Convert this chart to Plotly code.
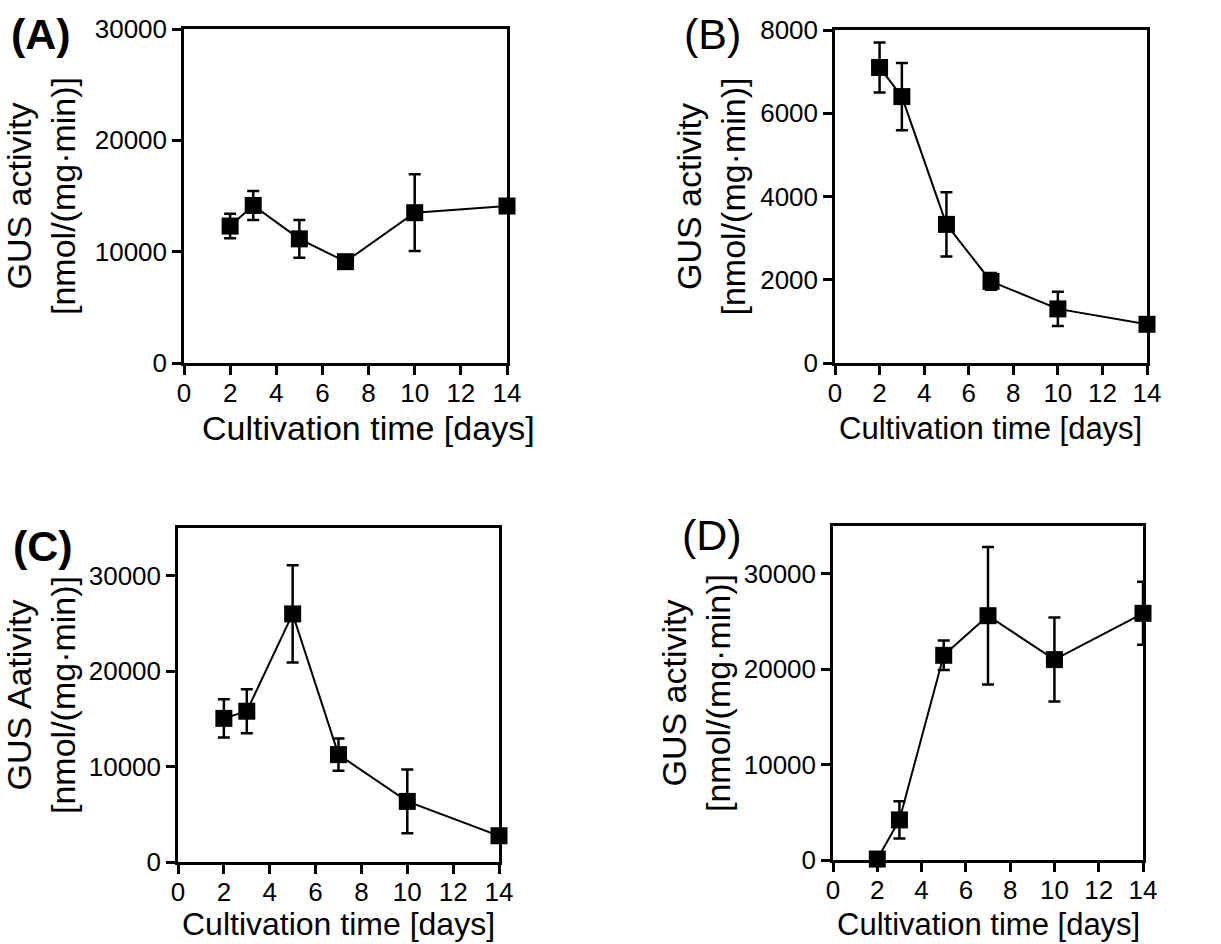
import plotly.graph_objects as go

W, H = 1221, 944
FONT = "Liberation Sans, Arial, sans-serif"

days = [2, 3, 5, 7, 10, 14]
x_ticks = [0, 2, 4, 6, 8, 10, 12, 14]

A_mean = [12300, 14150, 11150, 9100, 13500, 14100]
A_err = [1100, 1300, 1700, 0, 3450, 0]
B_mean = [7100, 6400, 3330, 1960, 1300, 930]
B_err = [600, 810, 770, 200, 410, 0]
C_mean = [15050, 15800, 26000, 11250, 6350, 2750]
C_err = [2000, 2300, 5100, 1700, 3350, 0]
D_mean = [100, 4200, 21450, 25600, 21000, 25850]
D_err = [0, 1950, 1550, 7200, 4400, 3300]

A_yticks = [0, 10000, 20000, 30000]
B_yticks = [0, 2000, 4000, 6000, 8000]
C_yticks = [0, 10000, 20000, 30000]
D_yticks = [0, 10000, 20000, 30000]

panels = [
    ("A", A_mean, A_err, A_yticks, 30000, (184, 507, 29, 363),
     "GUS activity<br>[nmol/(mg·min)]", "(A)", (41, 34), True, 34, (368, 428), 12),
    ("B", B_mean, B_err, B_yticks, 8000, (835, 1147, 30, 363),
     "GUS activity<br>[nmol/(mg·min)]", "(B)", (712, 34), False, 31, (990, 428), 5),
    ("C", C_mean, C_err, C_yticks, 35000, (178, 499, 528, 862),
     "GUS Aativity<br>[nmol/(mg·min)]", "(C)", (43, 546), True, 32, (338, 924), 15),
    ("D", D_mean, D_err, D_yticks, 35000, (833, 1143, 526, 860),
     "GUS activity<br>[nmol/(mg·min)]", "(D)", (712, 535), False, 31, (988, 924), 3),
]

fig = go.Figure()
annotations = []
layout = {}
for i, (key, mean, err, yt, ymax, box, ytitle, lab, lpos, bold, xts, xtpos, so) in enumerate(panels):
    n = "" if i == 0 else str(i + 1)
    l, r, t, b = box
    fig.add_trace(go.Scatter(
        x=days, y=mean, mode="lines+markers",
        xaxis="x" + n, yaxis="y" + n,
        line=dict(color="black", width=2),
        marker=dict(symbol="square", size=17, color="black"),
        error_y=dict(type="data", array=err, visible=True,
                     color="black", thickness=2.5, width=6),
        cliponaxis=False, showlegend=False,
    ))
    common = dict(showline=True, linecolor="black", linewidth=2.5, mirror=True,
                  ticks="outside", ticklen=9, tickwidth=2.5, tickcolor="black",
                  showgrid=False, zeroline=False, automargin=False,
                  tickformat="d",
                  tickfont=dict(family=FONT, size=26, color="black"))
    layout["xaxis" + n] = dict(
        common, domain=[l / W, r / W], range=[0, 14], tickvals=x_ticks,
        anchor="y" + n, ticklabelstandoff=-4)
    layout["yaxis" + n] = dict(
        common, domain=[1 - b / H, 1 - t / H], range=[0, ymax], tickvals=yt,
        anchor="x" + n,
        title=dict(text=ytitle, font=dict(family=FONT, size=34, color="black"),
                   standoff=so))
    annotations.append(dict(
        text=("<b>%s</b>" % lab) if bold else lab, xref="paper", yref="paper",
        x=lpos[0] / W, y=1 - lpos[1] / H, xanchor="center", yanchor="middle",
        showarrow=False, font=dict(family=FONT, size=43, color="black")))
    annotations.append(dict(
        text="Cultivation time [days]", xref="paper", yref="paper",
        x=xtpos[0] / W, y=1 - xtpos[1] / H, xanchor="center", yanchor="middle",
        showarrow=False, font=dict(family=FONT, size=xts, color="black")))

fig.update_layout(
    width=W, height=H, margin=dict(l=0, r=0, t=0, b=0),
    paper_bgcolor="white", plot_bgcolor="white",
    font=dict(family=FONT, color="black"),
    annotations=annotations, **layout)

fig.write_html("out.html", config={"displayModeBar": False},
               post_script="document.body.style.margin='0';document.body.style.overflow='hidden';")
